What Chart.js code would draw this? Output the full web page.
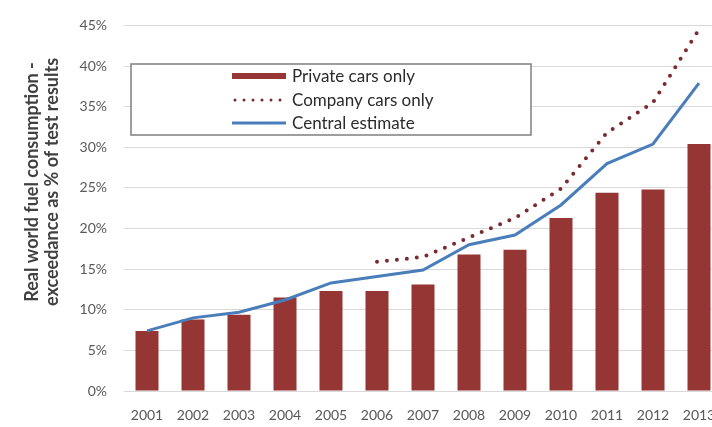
<!DOCTYPE html>
<html>
<head>
<meta charset="utf-8">
<script src="https://cdn.jsdelivr.net/npm/chart.js@4/dist/chart.umd.min.js"></script>
<style>
  html, body { margin: 0; padding: 0; background: #fff; overflow: hidden; }
</style>
</head>
<body>
<canvas id="fuelChart" width="740" height="427"></canvas>
<script>
const years = ["2001", "2002", "2003", "2004", "2005", "2006", "2007", "2008", "2009", "2010", "2011", "2012", "2013"];
const privateCars = [7.4, 8.8, 9.4, 11.5, 12.3, 12.3, 13.1, 16.8, 17.4, 21.3, 24.4, 24.8, 30.4];
const companyCars = [null, null, null, null, null, 15.9, 16.5, 18.9, 21.3, 24.9, 31.8, 35.5, 44.5];
const centralEstimate = [7.4, 9.0, 9.7, 11.2, 13.3, 14.1, 14.9, 18.0, 19.2, 22.9, 28.0, 30.4, 37.9];
const yTicks = [0, 5, 10, 15, 20, 25, 30, 35, 40, 45];
const yTitle = ["Real world fuel consumption -", "exceedance as % of test results"];

const BAR_COLOR = "#963634";
const DOT_COLOR = "#7a2b30";
const LINE_COLOR = "#4a7ebb";
const FONT = "Lato, 'Open Sans', sans-serif";

// y title sits a bit above the plot middle in the original, so draw it by hand
const sideTitle = {
  id: "sideTitle",
  afterDraw(chart) {
    const ctx = chart.ctx;
    ctx.save();
    ctx.translate(0, 182);
    ctx.rotate(-Math.PI / 2);
    ctx.font = "bold 18px " + FONT;
    ctx.fillStyle = "#404040";
    ctx.textAlign = "center";
    ctx.textBaseline = "middle";
    yTitle.forEach((line, i) => ctx.fillText(line, 0, 32 + i * 20.5));
    ctx.restore();
  },
};

// legend drawn as a boxed panel inside the plot, like the original
const boxLegend = {
  id: "boxLegend",
  afterDraw(chart) {
    const ctx = chart.ctx;
    const area = chart.chartArea;
    const x0 = area.left + 7;
    const y0 = 64;
    const w = 400;
    const h = 71;
    ctx.save();
    ctx.fillStyle = "#fff";
    ctx.fillRect(x0, y0, w, h);
    ctx.strokeStyle = "#7f7f7f";
    ctx.lineWidth = 1.5;
    ctx.strokeRect(x0, y0, w, h);

    const symX = x0 + 101;
    const symW = 54;
    const textX = symX + symW + 6;
    const rows = [y0 + 12, y0 + 36, y0 + 59];
    ctx.font = "17px " + FONT;
    ctx.textBaseline = "middle";

    // Private cars only
    ctx.fillStyle = BAR_COLOR;
    ctx.fillRect(symX, rows[0] - 3, symW, 6);
    // Company cars only
    ctx.strokeStyle = DOT_COLOR;
    ctx.lineWidth = 3;
    ctx.lineCap = "round";
    ctx.setLineDash([0, 9]);
    ctx.beginPath();
    ctx.moveTo(symX + 3, rows[1]);
    ctx.lineTo(symX + symW, rows[1]);
    ctx.stroke();
    // Central estimate
    ctx.setLineDash([]);
    ctx.lineCap = "butt";
    ctx.strokeStyle = LINE_COLOR;
    ctx.lineWidth = 3;
    ctx.beginPath();
    ctx.moveTo(symX, rows[2]);
    ctx.lineTo(symX + symW, rows[2]);
    ctx.stroke();

    const labels = chart.data.datasets.map((d) => d.label);
    ctx.fillStyle = "#2b2b2b";
    labels.forEach((lab, i) => ctx.fillText(lab, textX, rows[i] + 1));
    ctx.restore();
  },
};

const ctx = document.getElementById("fuelChart").getContext("2d");
const chart = new Chart(ctx, {
  data: {
    labels: years,
    datasets: [
      {
        type: "bar",
        label: "Private cars only",
        data: privateCars,
        backgroundColor: BAR_COLOR,
        barPercentage: 0.5,
        categoryPercentage: 1.0,
        order: 3,
      },
      {
        type: "line",
        label: "Company cars only",
        data: companyCars,
        borderColor: DOT_COLOR,
        borderWidth: 4,
        borderDash: [0, 10],
        borderCapStyle: "round",
        pointRadius: 0,
        fill: false,
        tension: 0,
        order: 2,
      },
      {
        type: "line",
        label: "Central estimate",
        data: centralEstimate,
        borderColor: LINE_COLOR,
        borderWidth: 3,
        pointRadius: 0,
        fill: false,
        tension: 0,
        order: 1,
      },
    ],
  },
  options: {
    responsive: false,
    animation: false,
    devicePixelRatio: 1,
    layout: {
      padding: { top: 19, right: 18, left: 0, bottom: 0 },
    },
    plugins: {
      legend: { display: false },
      tooltip: { enabled: false },
    },
    scales: {
      x: {
        grid: { display: false },
        border: { color: "#d9d9d9" },
        ticks: {
          color: "#595959",
          font: { family: FONT, size: 14 },
          padding: 8,
          maxRotation: 0,
          autoSkip: false,
        },
        afterFit(scale) {
          scale.height = 36;
        },
      },
      y: {
        min: 0,
        max: 45,
        afterBuildTicks(scale) {
          scale.ticks = yTicks.map((v) => ({ value: v }));
        },
        grid: { color: "#d9d9d9", lineWidth: 1, drawTicks: false },
        border: { display: false },
        ticks: {
          color: "#595959",
          font: { family: FONT, size: 14 },
          padding: 17,
          callback: (v) => v + "%",
        },
        afterFit(scale) {
          scale.width = 124;
        },
      },
    },
  },
  plugins: [boxLegend, sideTitle],
});
</script>
</body>
</html>
